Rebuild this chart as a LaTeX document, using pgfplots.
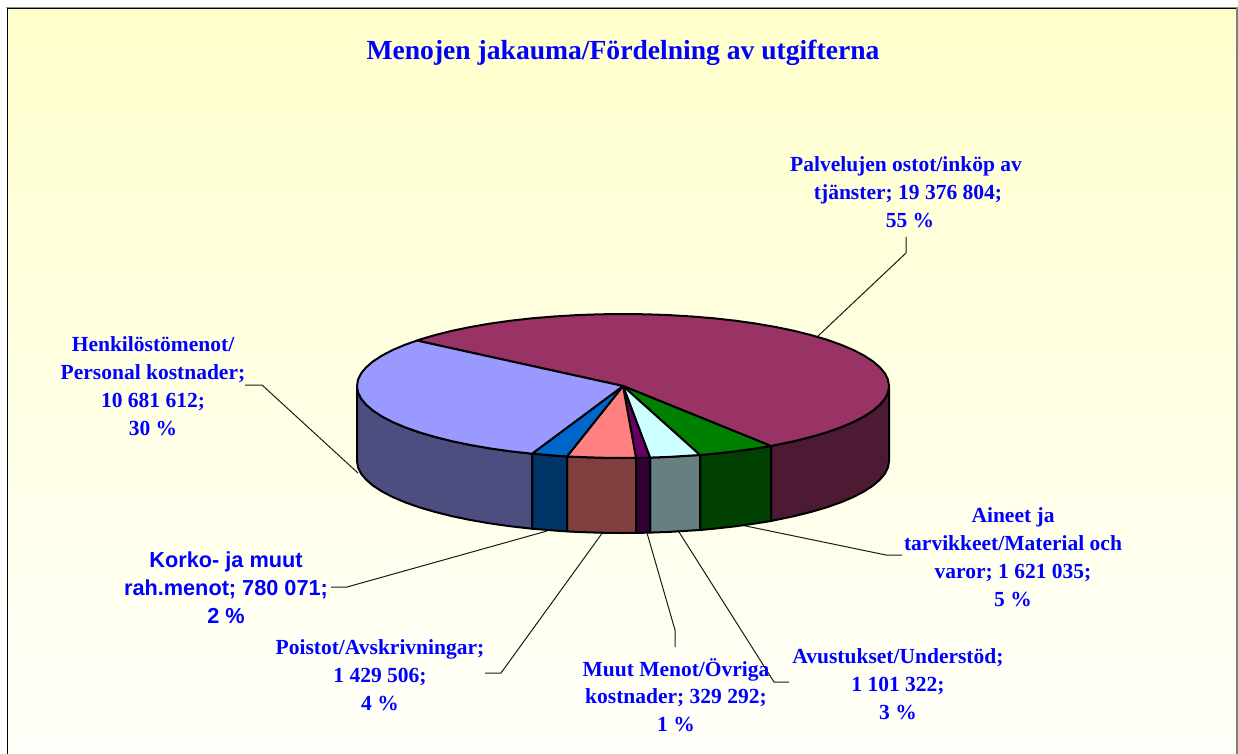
\documentclass[border=0pt]{standalone}
\usepackage{fontspec}
\setmainfont{Liberation Serif}
\newfontfamily\arialf{Liberation Sans}
\usepackage{pgfplots}
\pgfplotsset{compat=1.18}
\definecolor{lblblue}{HTML}{0000FF}
\definecolor{tPlum}{HTML}{993366}\definecolor{sPlum}{HTML}{4D1A33}
\definecolor{tGreen}{HTML}{008000}\definecolor{sGreen}{HTML}{004000}
\definecolor{tCyan}{HTML}{CCFFFF}\definecolor{sCyan}{HTML}{668080}
\definecolor{tViolet}{HTML}{660066}\definecolor{sViolet}{HTML}{330033}
\definecolor{tPink}{HTML}{FF8080}\definecolor{sPink}{HTML}{804040}
\definecolor{tBlue}{HTML}{0066CC}\definecolor{sBlue}{HTML}{003366}
\definecolor{tPeri}{HTML}{9999FF}\definecolor{sPeri}{HTML}{4D4D80}
\tikzset{
 wedge/.style={draw=black,line width=2pt,line join=round,fill=#1,mark=none},
 leader/.style={draw=black!90,line width=1pt,mark=none},
 lbl/.style={text=lblblue,align=center,anchor=center,inner sep=0pt,
   font=\fontsize{21.5}{27.8}\selectfont\bfseries}
}
\begin{document}
\begin{tikzpicture}
\useasboundingbox (0,0) rectangle (1238pt,754pt);
\begin{axis}[
  at={(0,0)},anchor=south west,
  scale only axis,width=1238pt,height=754pt,
  xmin=0,xmax=1238,ymin=0,ymax=754,y dir=reverse,
  hide axis,clip=true]
% background
\path[top color=yellow!20!white,bottom color=yellow!2!white,shading angle=0]
  (axis cs:7,8) rectangle (axis cs:1237,756);
\draw[black!45,line width=1pt] (axis cs:6,7.2) -- (axis cs:1237.5,7.2);
\draw[black,line width=1.4pt] (axis cs:7,8.5) -- (axis cs:1237,8.5);
\draw[black,line width=1.6pt] (axis cs:7.4,8) -- (axis cs:7.4,754);
\draw[black!50,line width=1.6pt] (axis cs:1237.2,8) -- (axis cs:1237.2,754);
% leader lines
\addplot[leader] coordinates {(906,237) (906,253) (817,337)};
\addplot[leader] coordinates {(245,385) (262,385) (358,473)};
\addplot[leader] coordinates {(331,587) (347,587) (547,531)};
\addplot[leader] coordinates {(485,673) (501,673) (603,532)};
\addplot[leader] coordinates {(675,647) (675,630) (647,533)};
\addplot[leader] coordinates {(789,682) (774,682) (679,532)};
\addplot[leader] coordinates {(902,555) (886,555) (741,525)};
% side walls
\addplot[wedge=sPlum] coordinates {(771,446)(775.6,445)(794,441.2)(811.1,436.9)(826.8,432.3)(840.9,427.3)(853.4,422)(864.1,416.4)(873,410.6)(879.9,404.6)(885,398.5)(888,392.3)(889,386)(889,461)(888,467.3)(885,473.5)(879.9,479.6)(873,485.6)(864.1,491.4)(853.4,497)(840.9,502.3)(826.8,507.3)(811.1,511.9)(794,516.2)(775.6,520)(771,521)(771,446)};
\addplot[wedge=sGreen] coordinates {(700,455)(714,453.7)(735.4,451.3)(756,448.4)(771,446)(771,521)(756,523.4)(735.4,526.3)(714,528.7)(700,530)(700,455)};
\addplot[wedge=sCyan] coordinates {(650,457.6)(669.2,456.9)(691.8,455.5)(700,455)(700,530)(691.8,530.5)(669.2,531.9)(650,532.6)(650,457.6)};
\addplot[wedge=sViolet] coordinates {(636,457.9)(646.2,457.7)(650,457.6)(650,532.6)(646.2,532.7)(636,532.9)(636,457.9)};
\addplot[wedge=sPink] coordinates {(567,456.4)(576.8,456.9)(599.8,457.7)(623,458)(636,457.9)(636,532.9)(623,533)(599.8,532.7)(576.8,531.9)(567,531.4)(567,456.4)};
\addplot[wedge=sBlue] coordinates {(532,453.7)(554.2,455.5)(567,456.4)(567,531.4)(554.2,530.5)(532,528.7)(532,453.7)};
\addplot[wedge=sPeri] coordinates {(357,386)(358,392.3)(361,398.5)(366.1,404.6)(373,410.6)(381.9,416.4)(392.6,422)(405.1,427.3)(419.2,432.3)(434.9,436.9)(452,441.2)(470.4,445)(490,448.4)(510.6,451.3)(532,453.7)(532,528.7)(510.6,526.3)(490,523.4)(470.4,520)(452,516.2)(434.9,511.9)(419.2,507.3)(405.1,502.3)(392.6,497)(381.9,491.4)(373,485.6)(366.1,479.6)(361,473.5)(358,467.3)(357,461)(357,386)};
% top faces
\addplot[wedge=tPlum] coordinates {(623,386)(771,446)(775.6,445)(794,441.2)(811.1,436.9)(826.8,432.3)(840.9,427.3)(853.4,422)(864.1,416.4)(873,410.6)(879.9,404.6)(885,398.5)(888,392.3)(889,386)(888,379.7)(885,373.5)(879.9,367.4)(873,361.4)(864.1,355.6)(853.4,350)(840.9,344.7)(826.8,339.7)(811.1,335.1)(794,330.8)(775.6,327)(756,323.6)(735.4,320.7)(714,318.3)(691.8,316.5)(669.2,315.1)(646.2,314.3)(623,314)(599.8,314.3)(576.8,315.1)(554.2,316.5)(532,318.3)(510.6,320.7)(490,323.6)(470.4,327)(452,330.8)(434.9,335.1)(419.2,339.7)(417,340.6)(623,386)};
\addplot[wedge=tGreen] coordinates {(623,386)(700,455)(714,453.7)(735.4,451.3)(756,448.4)(771,446)(623,386)};
\addplot[wedge=tCyan] coordinates {(623,386)(650,457.6)(669.2,456.9)(691.8,455.5)(700,455)(623,386)};
\addplot[wedge=tViolet] coordinates {(623,386)(636,457.9)(646.2,457.7)(650,457.6)(623,386)};
\addplot[wedge=tPink] coordinates {(623,386)(567,456.4)(576.8,456.9)(599.8,457.7)(623,458)(636,457.9)(623,386)};
\addplot[wedge=tBlue] coordinates {(623,386)(532,453.7)(554.2,455.5)(567,456.4)(623,386)};
\addplot[wedge=tPeri] coordinates {(623,386)(417,340.6)(405.1,344.7)(392.6,350)(381.9,355.6)(373,361.4)(366.1,367.4)(361,373.5)(358,379.7)(357,386)(358,392.3)(361,398.5)(366.1,404.6)(373,410.6)(381.9,416.4)(392.6,422)(405.1,427.3)(419.2,432.3)(434.9,436.9)(452,441.2)(470.4,445)(490,448.4)(510.6,451.3)(532,453.7)(623,386)};
% text
\node[text=lblblue,anchor=center,inner sep=0pt,font=\fontsize{27.6}{30}\selectfont\bfseries] at (axis cs:623,53) {Menojen jakauma/Fördelning av utgifterna};
\node[lbl] at (axis cs:906,192) {Palvelujen ostot/inköp av\\\hspace*{4pt}tjänster; 19 376 804;\\\hspace*{8pt}55 \%};
\node[lbl] at (axis cs:153,386) {Henkilöstömenot/\\Personal kostnader;\\10 681 612;\\30 \%};
\node[lbl,font=\fontsize{21.7}{28}\selectfont\bfseries\arialf] at (axis cs:226,588) {Korko- ja muut\\rah.menot; 780 071;\\2 \%};
\node[lbl] at (axis cs:380,675) {Poistot/Avskrivningar;\\1 429 506;\\4 \%};
\node[lbl] at (axis cs:676,695) {Muut Menot/Övriga\\kostnader; 329 292;\\1 \%};
\node[lbl] at (axis cs:898,684) {Avustukset/Understöd;\\1 101 322;\\3 \%};
\node[lbl] at (axis cs:1013,557) {Aineet ja\\tarvikkeet/Material och\\varor; 1 621 035;\\5 \%};
\end{axis}
\end{tikzpicture}
\end{document}
